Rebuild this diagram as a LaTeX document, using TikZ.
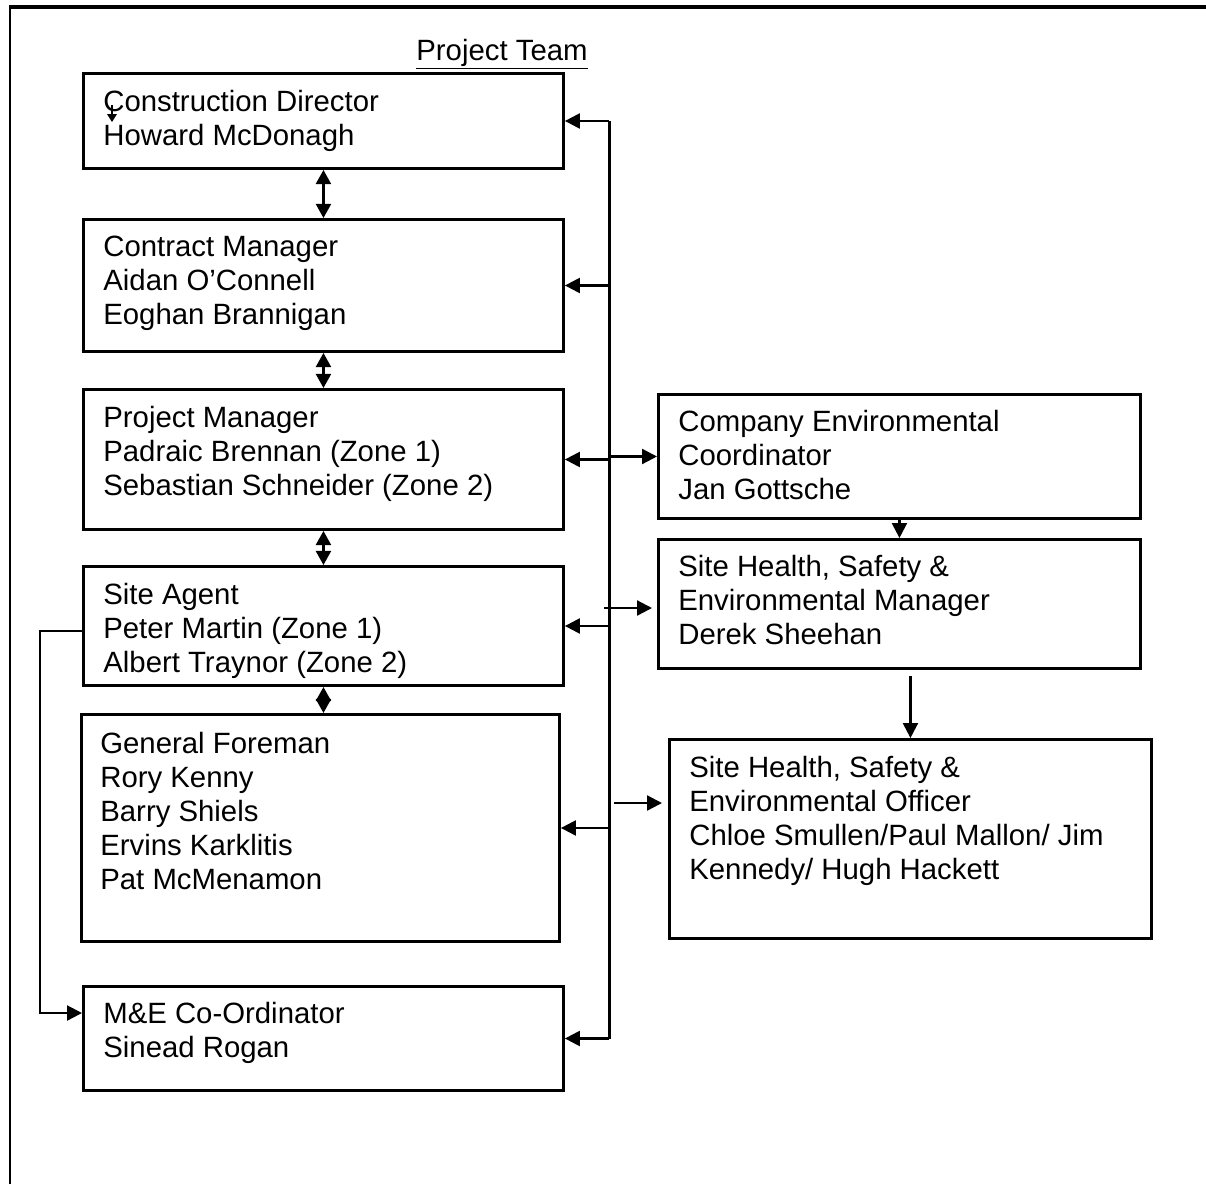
\documentclass[tikz,border=0pt]{standalone}
\usepackage{fontspec}
\setmainfont{Liberation Sans}
\usetikzlibrary{arrows.meta}
\begin{document}
\begin{tikzpicture}[
	x=0.02cm, y=-0.02cm,
	frame/.style={ draw, line width=1.7pt, inner sep=0pt, anchor=north west },
	names/.style={ anchor=north west, align=left, inner sep=0pt, font=\fontsize{16.7}{19.3}\selectfont },
	link/.style={ line width=1.3pt, -{Triangle[length=8.5pt,width=8.5pt]} },
	links/.style={ line width=1.3pt, {Triangle[length=8pt,width=8.5pt]}-{Triangle[length=8pt,width=8.5pt]} }
]
\useasboundingbox (0,0) rectangle (1206,1184);
\draw[line width=1.5pt] (10,1184) -- (10,7);
\draw[line width=2.4pt] (9,7) -- (1206,7);

\node (title) [names, anchor=base] at (502,60) {\underline{Project Team}};

% left column
\node at (82,72) (director) [frame, minimum width=9.6cm, minimum height=1.9cm] {};
\node at (82,218) (contract) [frame, minimum width=9.6cm, minimum height=2.64cm] {};
\node at (82,388) (project) [frame, minimum width=9.6cm, minimum height=2.8cm] {};
\node at (82,565) (agent) [frame, minimum width=9.6cm, minimum height=2.38cm] {};
\node at (80,713) (foreman) [frame, minimum width=9.56cm, minimum height=4.54cm] {};
\node at (82,985) (mande) [frame, minimum width=9.6cm, minimum height=2.08cm] {};

% right column
\node at (657,393) (envcoord) [frame, minimum width=9.64cm, minimum height=2.48cm] {};
\node at (657,538) (hsemanager) [frame, minimum width=9.64cm, minimum height=2.58cm] {};
\node at (668,738) (hseofficer) [frame, minimum width=9.64cm, minimum height=3.98cm] {};

\node at ([shift={(21,18)}]director.north west) (directortext) [names] {Construction Director\\Howard McDonagh};
\node at ([shift={(21,18)}]contract.north west) (contracttext) [names] {Contract Manager\\Aidan O'Connell\\Eoghan Brannigan};
\node at ([shift={(21,18)}]project.north west) (projecttext) [names] {Project Manager\\Padraic Brennan (Zone 1)\\Sebastian Schneider (Zone 2)};
\node at ([shift={(21,18)}]agent.north west) (agenttext) [names] {Site Agent\\Peter Martin (Zone 1)\\Albert Traynor (Zone 2)};
\node at ([shift={(20,19)}]foreman.north west) (foremantext) [names] {General Foreman\\Rory Kenny\\Barry Shiels\\Ervins Karklitis\\Pat McMenamon};
\node at ([shift={(21,17)}]mande.north west) (mandetext) [names] {M\&E Co-Ordinator\\Sinead Rogan};
\node at ([shift={(21,17)}]envcoord.north west) (envcoordtext) [names] {Company Environmental\\Coordinator\\Jan Gottsche};
\node at ([shift={(21,17)}]hsemanager.north west) (hsemanagertext) [names] {Site Health, Safety \&\\Environmental Manager\\Derek Sheehan};
\node at ([shift={(21,18)}]hseofficer.north west) (hseofficertext) [names] {Site Health, Safety \&\\Environmental Officer\\Chloe Smullen/Paul Mallon/ Jim\\Kennedy/ Hugh Hackett};

\draw[line width=0.7pt, -{Triangle[length=4.5pt,width=5.5pt]}] ([shift={(30,33)}]director.north west) -- ([shift={(30,50)}]director.north west);

% reporting lines
\coordinate (bus) at (609,118);
\draw[line width=1.7pt] (bus |- director.east) -- (bus |- mande.east);
\foreach \b in {director,contract,project,agent,foreman,mande}
  \draw[link] (bus |- \b.east) -- (\b.east);

\draw[links] (director.south) -- (contract.north);
\draw[links] (contract.south) -- (project.north);
\draw[links] (project.south) -- (agent.north);
\draw[links] (agent.south) -- (agent.south |- foreman.north);

\draw[link] (bus |- envcoord.west) -- (envcoord.west);
\coordinate (mgrstart) at (604,608);
\coordinate (mgrend) at (652,608);
\draw[link] (mgrstart) -- (mgrend);
\coordinate (offstart) at (614,803);
\coordinate (offend) at (662,803);
\draw[link] (offstart) -- (offend);

\draw[link] (envcoord.south) -- (hsemanager.north);
\draw[link] ([shift={(0,6)}]hsemanager.south -| hseofficer.north) -- (hseofficer.north);

\coordinate (loopa) at (40,631);
\coordinate (loopb) at (40,1013);
\draw[link] (agent.west |- loopa) -- (loopa) -- (loopb) -- (mande.west |- loopb);

\end{tikzpicture}
\end{document}
